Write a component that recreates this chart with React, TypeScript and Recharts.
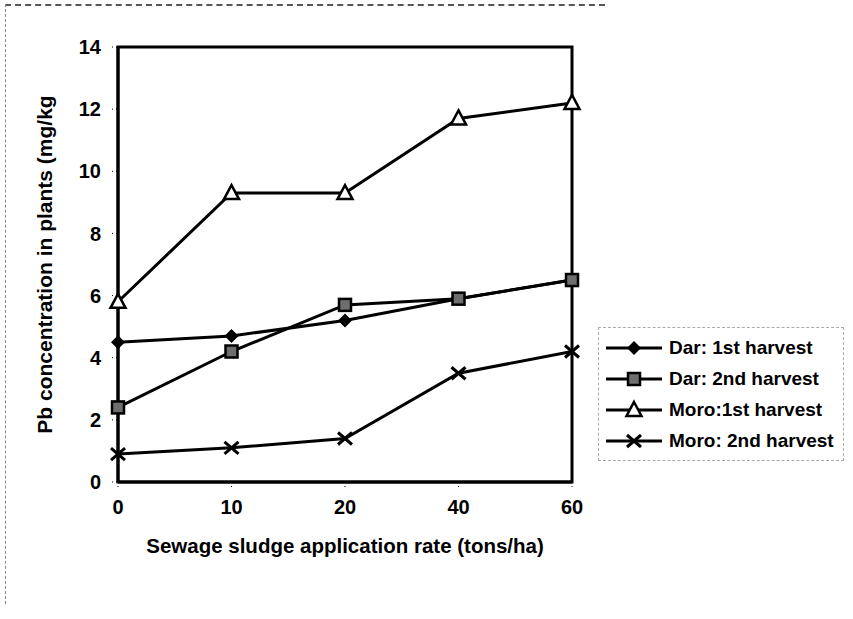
import React from "react";
import {
  LineChart,
  Line,
  XAxis,
  YAxis,
  ReferenceArea,
  Label,
} from "recharts";

const rates = ["0", "10", "20", "40", "60"];
const darFirst = [4.5, 4.7, 5.2, 5.9, 6.5];
const darSecond = [2.4, 4.2, 5.7, 5.9, 6.5];
const moroFirst = [5.8, 9.3, 9.3, 11.7, 12.2];
const moroSecond = [0.9, 1.1, 1.4, 3.5, 4.2];
const yTicks = [0, 2, 4, 6, 8, 10, 12, 14];

const seriesNames = [
  "Dar: 1st harvest",
  "Dar: 2nd harvest",
  "Moro:1st harvest",
  "Moro: 2nd harvest",
];

const data = rates.map((rate, i) => ({
  rate,
  darFirst: darFirst[i],
  darSecond: darSecond[i],
  moroFirst: moroFirst[i],
  moroSecond: moroSecond[i],
}));

const FONT = "'Liberation Sans', Arial, sans-serif";

type MarkProps = { cx?: number; cy?: number };

const Diamond = ({ cx = 0, cy = 0 }: MarkProps) => (
  <polygon
    points={`${cx},${cy - 7} ${cx + 7},${cy} ${cx},${cy + 7} ${cx - 7},${cy}`}
    fill="#000"
  />
);

const Square = ({ cx = 0, cy = 0 }: MarkProps) => (
  <rect x={cx - 6} y={cy - 6} width={12} height={12} fill="#6e6e6e" stroke="#000" strokeWidth={2.5} />
);

const Triangle = ({ cx = 0, cy = 0 }: MarkProps) => (
  <polygon
    points={`${cx},${cy - 8} ${cx + 7.5},${cy + 6} ${cx - 7.5},${cy + 6}`}
    fill="#fff"
    stroke="#000"
    strokeWidth={2.5}
  />
);

const Cross = ({ cx = 0, cy = 0 }: MarkProps) => (
  <g stroke="#000" strokeWidth={3}>
    <line x1={cx - 7} y1={cy - 6} x2={cx + 7} y2={cy + 6} />
    <line x1={cx - 7} y1={cy + 6} x2={cx + 7} y2={cy - 6} />
  </g>
);

const markers = [Diamond, Square, Triangle, Cross];

function LegendBox() {
  return (
    <div
      style={{
        position: "absolute",
        left: 598,
        top: 327,
        width: 244,
        border: "1px dashed #aaa",
        padding: "4px 0",
        fontFamily: FONT,
        fontWeight: "bold",
        fontSize: 19,
        color: "#000",
        background: "#fff",
      }}
    >
      {seriesNames.map((name, i) => {
        const Mark = markers[i];
        return (
          <div key={name} style={{ display: "flex", alignItems: "center", height: 31 }}>
            <svg width={66} height={24} style={{ marginLeft: 5 }}>
              <line x1={2} y1={12} x2={58} y2={12} stroke="#000" strokeWidth={3} />
              <Mark cx={30} cy={12} />
            </svg>
            <span style={{ whiteSpace: "nowrap", marginLeft: -1 }}>{name}</span>
          </div>
        );
      })}
    </div>
  );
}

export default function App() {
  const tickStyle = { fontFamily: FONT, fontWeight: "bold", fontSize: 20, fill: "#000" };
  return (
    <div style={{ position: "absolute", left: 0, top: 0, width: 853, height: 619, background: "#fff" }}>
      <div style={{ position: "absolute", left: 5, top: 4, width: 600, borderTop: "2px dashed #555" }} />
      <div style={{ position: "absolute", left: 5, top: 4, height: 600, borderLeft: "1px dashed #888" }} />
      <LineChart
        width={853}
        height={619}
        data={data}
        margin={{ top: 47, right: 281, left: 58, bottom: 67 }}
      >
        <XAxis
          dataKey="rate"
          type="category"
          height={70}
          tick={tickStyle}
          tickSize={5}
          tickMargin={13}
          tickLine={{ stroke: "#000", strokeDasharray: "1 3" }}
          axisLine={{ stroke: "#000", strokeWidth: 3 }}
        >
          <Label
            value="Sewage sludge application rate (tons/ha)"
            position="insideBottom"
            offset={-1}
            style={{ fontFamily: FONT, fontWeight: "bold", fontSize: 20.5, fill: "#000" }}
          />
        </XAxis>
        <YAxis
          type="number"
          domain={[0, 14]}
          ticks={yTicks}
          width={60}
          tick={tickStyle}
          tickSize={6}
          tickMargin={11}
          tickLine={{ stroke: "#000", strokeDasharray: "1 3" }}
          axisLine={{ stroke: "#000", strokeWidth: 3 }}
        >
          <Label
            value="Pb concentration in plants (mg/kg"
            angle={-90}
            position="left"
            offset={13}
            style={{ fontFamily: FONT, fontWeight: "bold", fontSize: 21, fill: "#000", textAnchor: "middle" }}
          />
        </YAxis>
        <ReferenceArea
          x1="0"
          x2="60"
          y1={0}
          y2={14}
          fill="none"
          fillOpacity={0}
          stroke="#000"
          strokeWidth={3}
        />
        <Line dataKey="darFirst" name={seriesNames[0]} stroke="#000" strokeWidth={3} dot={<Diamond />} isAnimationActive={false} />
        <Line dataKey="darSecond" name={seriesNames[1]} stroke="#000" strokeWidth={3} dot={<Square />} isAnimationActive={false} />
        <Line dataKey="moroFirst" name={seriesNames[2]} stroke="#000" strokeWidth={3} dot={<Triangle />} isAnimationActive={false} />
        <Line dataKey="moroSecond" name={seriesNames[3]} stroke="#000" strokeWidth={3} dot={<Cross />} isAnimationActive={false} />
      </LineChart>
      <LegendBox />
    </div>
  );
}
